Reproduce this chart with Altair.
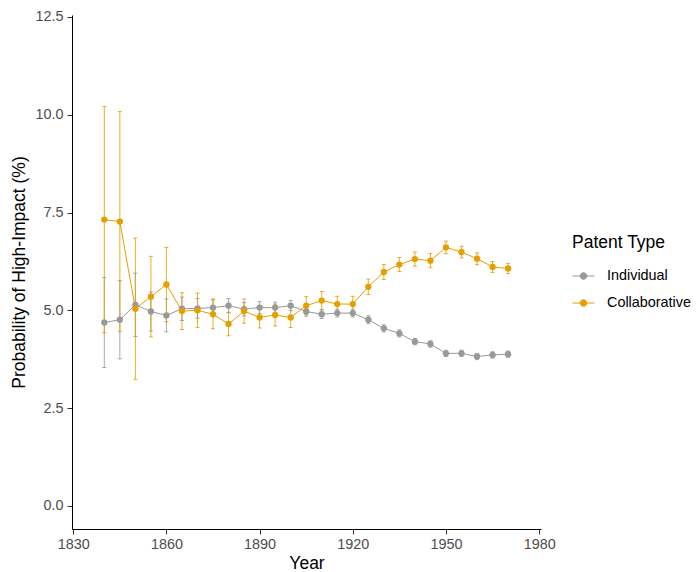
import altair as alt
import pandas as pd

years = [1840, 1845, 1850, 1855, 1860, 1865, 1870, 1875, 1880, 1885, 1890, 1895, 1900,
         1905, 1910, 1915, 1920, 1925, 1930, 1935, 1940, 1945, 1950, 1955, 1960, 1965, 1970]

ind_mean = [4.69, 4.76, 5.14, 4.97, 4.87, 5.04, 5.05, 5.07, 5.12, 5.03, 5.07, 5.07, 5.12,
            4.97, 4.90, 4.93, 4.93, 4.76, 4.54, 4.41, 4.20, 4.14, 3.90, 3.90, 3.82, 3.86, 3.88]
ind_err = [1.15, 1.00, 0.81, 0.50, 0.42, 0.30, 0.25, 0.22, 0.18, 0.17, 0.15, 0.14, 0.13,
           0.12, 0.11, 0.10, 0.10, 0.10, 0.09, 0.09, 0.08, 0.08, 0.08, 0.08, 0.08, 0.08, 0.08]

col_mean = [7.32, 7.27, 5.04, 5.35, 5.66, 4.98, 5.00, 4.90, 4.65, 4.98, 4.82, 4.88, 4.82,
            5.12, 5.25, 5.16, 5.16, 5.60, 5.98, 6.17, 6.31, 6.27, 6.61, 6.49, 6.32, 6.11, 6.07]
col_err = [2.89, 2.81, 1.81, 1.03, 0.95, 0.47, 0.44, 0.37, 0.30, 0.31, 0.27, 0.28, 0.26,
           0.23, 0.23, 0.20, 0.20, 0.20, 0.19, 0.18, 0.18, 0.18, 0.16, 0.15, 0.15, 0.14, 0.13]

types = ["Individual", "Collaborative"]
colors = ["#999999", "#E69F00"]

rows = []
for t, means, errs in [("Individual", ind_mean, ind_err), ("Collaborative", col_mean, col_err)]:
    for y, m, e in zip(years, means, errs):
        rows.append({"type": t, "year": y, "mean": m, "lo": m - e, "hi": m + e})
df = pd.DataFrame(rows)

sym = "M-1,0L1,0M-0.3,0A0.3,0.3 0 1,0 0.3,0A0.3,0.3 0 1,0 -0.3,0Z"

color = alt.Color(
    "type:N",
    scale=alt.Scale(domain=types, range=colors),
    sort=types,
    legend=alt.Legend(
        title="Patent Type",
        orient="none",
        legendX=500,
        legendY=219,
        symbolType=sym,
        symbolSize=484,
        symbolStrokeWidth=1,
        symbolOpacity=1,
        titleFontSize=17.5,
        titleFontWeight="normal",
        titleColor="#000000",
        titlePadding=13,
        labelFontSize=14.4,
        labelColor="#000000",
        labelOffset=12,
        rowPadding=9,
    ),
)

x = alt.X("year:Q", scale=alt.Scale(domain=[1829.6, 1980.6], nice=False, zero=False),
          axis=alt.Axis(title="Year", values=[1830, 1860, 1890, 1920, 1950, 1980],
                        format="d", grid=False, titlePadding=4, labelPadding=3))
y = alt.Y("mean:Q", scale=alt.Scale(domain=[-0.59, 12.55], nice=False, zero=False),
          axis=alt.Axis(title="Probability of High-Impact (%)",
                        values=[0, 2.5, 5, 7.5, 10, 12.5], format=".1f", grid=False,
                        titlePadding=6, labelPadding=4))

base = alt.Chart(df)

points = base.mark_point(filled=True, size=40, opacity=1).encode(x=x, y=y, color=color)
bars = base.mark_rule(strokeWidth=1, opacity=0.85).encode(
    x=x, y=alt.Y("lo:Q"), y2="hi:Q", color=color)
caps_lo = base.mark_tick(orient="horizontal", size=4, thickness=1, opacity=0.85).encode(
    x=x, y=alt.Y("lo:Q"), color=color)
caps_hi = base.mark_tick(orient="horizontal", size=4, thickness=1, opacity=0.85).encode(
    x=x, y=alt.Y("hi:Q"), color=color)
lines = base.mark_line(strokeWidth=1).encode(x=x, y=y, color=color, detail="type:N")

chart = alt.layer(bars, caps_lo, caps_hi, lines, points).properties(
    width=469, height=514,
    autosize=alt.AutoSizeParams(type="none"),
    padding={"left": 72, "top": 15, "right": 156, "bottom": 43},
    background="white",
).configure_view(stroke=None).configure_axis(
    domainColor="#000000", domainWidth=1, tickColor="#333333", tickSize=5,
    labelFont="Liberation Sans", titleFont="Liberation Sans",
    labelFontSize=14.4, labelColor="#4D4D4D",
    titleFontSize=17.5, titleFontWeight="normal", titleColor="#000000",
).configure_legend(labelFont="Liberation Sans", titleFont="Liberation Sans")

chart.save("out.html", embed_options={"renderer": "svg", "actions": False})
